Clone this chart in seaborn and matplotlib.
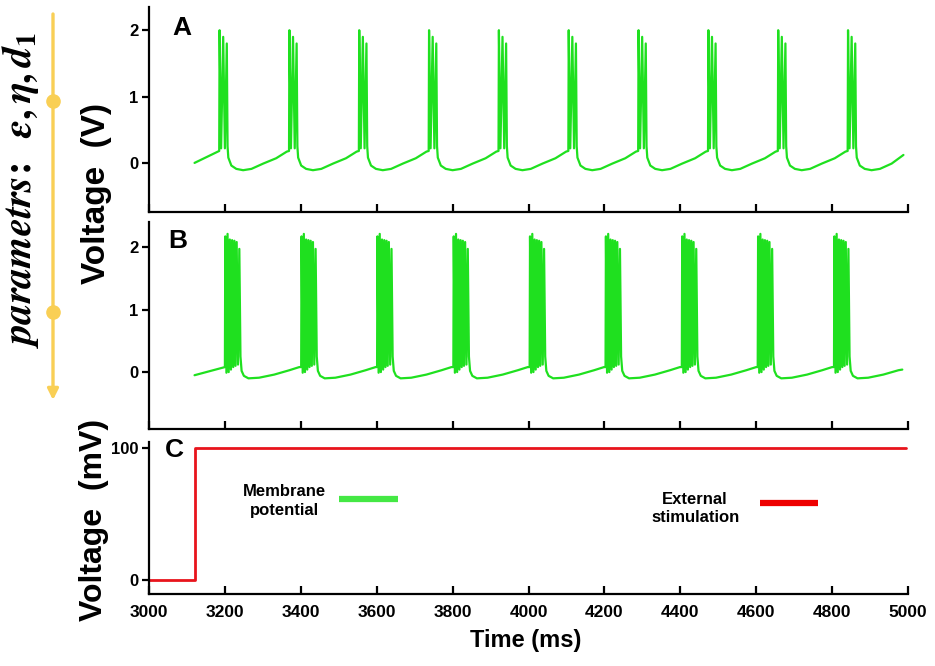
import numpy as np
import pandas as pd
import matplotlib
matplotlib.use("Agg")
import matplotlib.pyplot as plt
import seaborn as sns

# ---------------- data ----------------
# Panel A: burst onsets (ms) and one burst/recovery cycle (offset ms, voltage V)
A_onsets = [3185, 3369, 3553, 3737, 3921, 4105, 4289, 4473, 4657, 4841]
A_cycle_t = [0, 1, 5, 10.5, 15, 20, 22, 24, 32, 45, 63, 85, 116, 150, 178]
A_cycle_v = [0.18, 2.00, 0.22, 1.90, 0.22, 1.80, 0.25, 0.08, -0.04, -0.09,
             -0.11, -0.09, -0.01, 0.07, 0.17]
A_start = (3120, 0.00)
A_end = (4988, 0.12)

# Panel B
B_onsets = [3200, 3401, 3601, 3802, 4003, 4203, 4404, 4604, 4805]
B_cycle_t = [0, 1, 4, 7, 10, 13, 16, 19, 22, 25, 28, 31, 34.5, 38,
             41, 44, 50, 62, 90, 130, 170, 196]
B_cycle_v = [0.08, 2.17, -0.01, 2.21, 0.00, 2.12, 0.04, 2.11, 0.08, 2.10,
             0.10, 2.08, 0.12, 1.97, 0.25, 0.02, -0.06, -0.10, -0.09,
             -0.04, 0.03, 0.08]
B_start = (3120, -0.05)
B_end = (4985, 0.04)

# Panel C: external stimulation (mV)
stim_t = [3000, 3120, 3120, 4995]
stim_v = [0, 0, 100, 100]

x_ticks = [3000, 3200, 3400, 3600, 3800, 4000, 4200, 4400, 4600, 4800, 5000]
yticks_AB = [0, 1, 2]
yticks_C = [0, 100]

# legend-like markers inside panel C
mem_bar_t = [3500, 3656]
mem_bar_v = [61, 61]
ext_bar_t = [4610, 4763]
ext_bar_v = [58, 58]


def build_trace(onsets, ct, cv, start, end):
    t = [start[0]]
    v = [start[1]]
    for on in onsets:
        for dt, val in zip(ct, cv):
            if on + dt < end[0]:
                t.append(on + dt)
                v.append(val)
    t.append(end[0])
    v.append(end[1])
    return pd.DataFrame({"t": t, "v": v})


dfA = build_trace(A_onsets, A_cycle_t, A_cycle_v, A_start, A_end)
dfB = build_trace(B_onsets, B_cycle_t, B_cycle_v, B_start, B_end)
dfC = pd.DataFrame({"t": stim_t, "v": stim_v})

# ---------------- style ----------------
sns.set_theme(style="ticks")
plt.rcParams["font.family"] = ["Liberation Sans", "DejaVu Sans"]
plt.rcParams["font.weight"] = "bold"
plt.rcParams["mathtext.fontset"] = "stix"
for k in ("text.color", "axes.labelcolor", "xtick.color", "ytick.color",
          "axes.edgecolor"):
    plt.rcParams[k] = "black"

GREEN = "#1fe01f"
RED = "#e8141c"
GOLD = "#f9cf55"

W, H = 935, 666
fig = plt.figure(figsize=(W / 100, H / 100), dpi=100)


def ax_from_px(left, top, right, bottom):
    return fig.add_axes([left / W, 1 - bottom / H, (right - left) / W, (bottom - top) / H])


axA = ax_from_px(149, 7, 908, 212)
axB = ax_from_px(149, 222, 908, 429)
axC = ax_from_px(149, 442, 908, 594)

sns.lineplot(data=dfA, x="t", y="v", ax=axA, color=GREEN, lw=1.6,
             estimator=None, sort=False)
sns.lineplot(data=dfB, x="t", y="v", ax=axB, color=GREEN, lw=1.6,
             estimator=None, sort=False)
sns.lineplot(data=dfC, x="t", y="v", ax=axC, color=RED, lw=2.0,
             estimator=None, sort=False)

axA.set_ylim(-0.74, 2.35)
axB.set_ylim(-0.91, 2.40)
axC.set_ylim(-10.6, 104.5)

for ax, yt in ((axA, yticks_AB), (axB, yticks_AB), (axC, yticks_C)):
    ax.set_xlim(x_ticks[0], x_ticks[-1])
    ax.set_xticks(x_ticks)
    ax.set_yticks(yt)
    ax.set_xlabel("")
    ax.set_ylabel("")
    sns.despine(ax=ax)
    for s in ("left", "bottom"):
        ax.spines[s].set_linewidth(1.6)
        ax.spines[s].set_color("black")
    ax.tick_params(axis="x", direction="in", length=6, width=1.6, colors="black",
                   labelsize=12.5, pad=8)
    ax.tick_params(axis="y", direction="out", length=5, width=1.6, colors="black",
                   labelsize=12, pad=2.5)
    for lab in ax.get_xticklabels() + ax.get_yticklabels():
        lab.set_fontweight("bold")
        lab.set_color("black")

axA.tick_params(axis="x", labelbottom=False)
axB.tick_params(axis="x", labelbottom=False)

# legend-like bars and texts in panel C
axC.plot(mem_bar_t, mem_bar_v, color="#44e844", lw=4.5, solid_capstyle="butt")
axC.plot(ext_bar_t, ext_bar_v, color="#ee0000", lw=4.5, solid_capstyle="butt")
axC.text(3358, 60, "Membrane\npotential", ha="center", va="center",
         fontsize=12, fontweight="bold", linespacing=1.3, color="black")
axC.text(4439, 54, "External\nstimulation", ha="center", va="center",
         fontsize=12, fontweight="bold", linespacing=1.3, color="black")

# panel letters
fig.text(172 / W, 1 - 28 / H, "A", fontsize=19, fontweight="bold", va="center")
fig.text(168 / W, 1 - 241 / H, "B", fontsize=19, fontweight="bold", va="center")
fig.text(165 / W, 1 - 450 / H, "C", fontsize=19, fontweight="bold", va="center")

# axis labels
fig.text(96 / W, 1 - 193 / H, "Voltage  (V)", rotation=90, ha="center",
         va="center", fontsize=24, fontweight="bold")
fig.text(94 / W, 1 - 520 / H, "Voltage  (mV)", rotation=90, ha="center",
         va="center", fontsize=23, fontweight="bold")
fig.text(526 / W, 1 - 641 / H, "Time (ms)", ha="center", va="center",
         fontsize=17, fontweight="bold")

# left decoration: parameter arrow
ov = fig.add_axes([0, 0, 1, 1], facecolor="none")
ov.set_xlim(0, W)
ov.set_ylim(H, 0)
ov.axis("off")
ov.annotate("", xy=(53, 400), xytext=(53, 14),
            arrowprops=dict(arrowstyle="-|>", color=GOLD, lw=2.4,
                            mutation_scale=16, shrinkA=0, shrinkB=0))
ov.plot([53, 53], [101, 312], "o", color=GOLD, ms=9.5, mec=GOLD)
ov.text(21, 190, r"$parametrs\!:\;\;\varepsilon,\eta,d_1$", rotation=90,
        ha="center", va="center", fontsize=29, color="black",
        fontweight="normal")

fig.savefig("out.png", dpi=100)
